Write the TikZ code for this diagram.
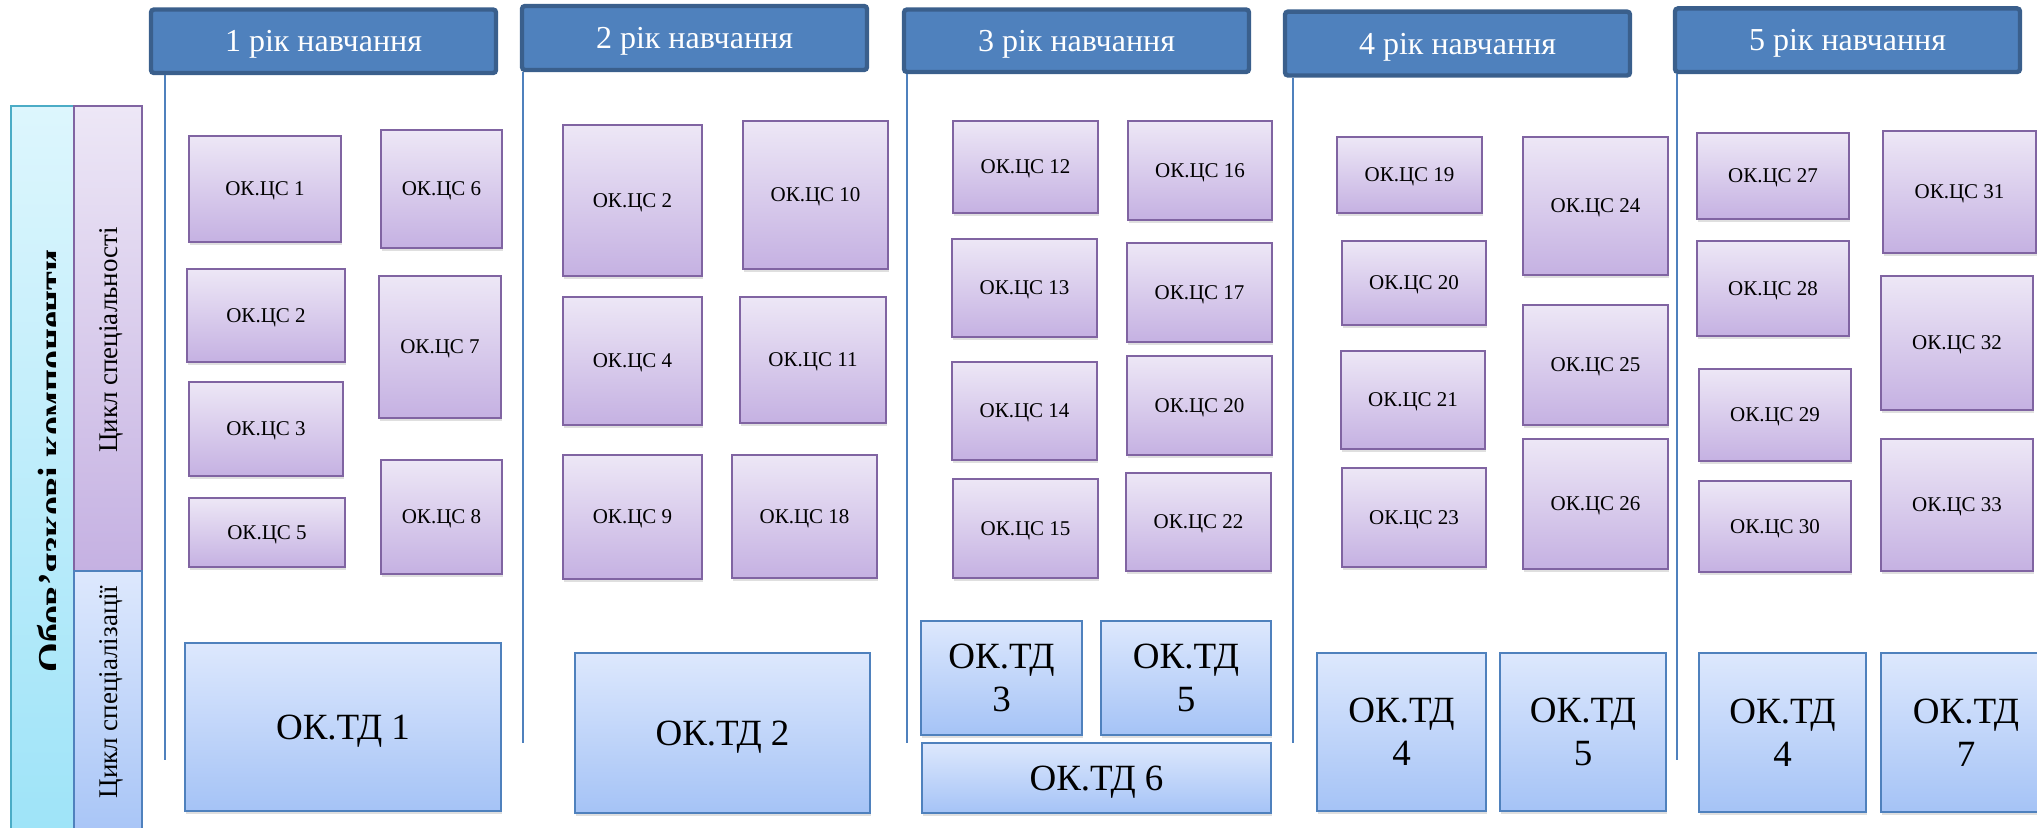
\documentclass[tikz,border=0pt]{standalone}
\usepackage{fontspec}
\setmainfont{Liberation Serif}
\usetikzlibrary{shadows}
\definecolor{hdrfill}{HTML}{4F81BD}
\definecolor{hdrline}{HTML}{3A5F8C}
\definecolor{cstop}{HTML}{EDE7F6}
\definecolor{csbot}{HTML}{C5B1E2}
\definecolor{csline}{HTML}{8064A2}
\definecolor{tdtop}{HTML}{DDE8FD}
\definecolor{tdbot}{HTML}{A5C3F6}
\definecolor{tdline}{HTML}{4F81BD}
\definecolor{cytop}{HTML}{DDF6FD}
\definecolor{cybot}{HTML}{9DE3F8}
\definecolor{cyline}{HTML}{4BACC6}
\newcommand\placebox[7]{%
  \node[#1, minimum width={(#5-#3)*0.5pt}, minimum height={(#6-#4)*0.5pt}] (#2) at ({(#3+#5)/2},{(#4+#6)/2}) {#7};}
\begin{document}
\begin{tikzpicture}[x=0.5pt,y=-0.5pt,
  yearbox/.style={draw=hdrline, fill=hdrfill, line width=2.2pt, rounded corners=1.5pt, inner sep=0pt,
    text=white, text depth=0pt, font=\fontsize{16}{19}\selectfont},
  csbox/.style={draw=csline, line width=1pt, top color=cstop, bottom color=csbot, inner sep=0pt,
    text depth=0pt, font=\fontsize{10.5}{12}\selectfont,
    drop shadow={opacity=0.25, shadow xshift=0.6pt, shadow yshift=-1.4pt}},
  tdbox/.style={draw=tdline, line width=1pt, top color=tdtop, bottom color=tdbot, inner sep=0pt,
    align=center, font=\fontsize{18.5}{21.5}\selectfont,
    drop shadow={opacity=0.25, shadow xshift=0.6pt, shadow yshift=-1.4pt}},
  tdone/.style={tdbox, text depth=0pt},
  yearline/.style={draw=hdrfill, line width=1.2pt},
  sidebox/.style={line width=1pt, inner sep=0pt}
]
\useasboundingbox (0,0) rectangle (2037,828);
\clip (0,0) rectangle (2037,828);

% left panel
\placebox{sidebox, draw=cyline, top color=cytop, bottom color=cybot}{oblig}{11}{106}{75}{850}{}
\placebox{sidebox, draw=csline, top color=cstop, bottom color=csbot}{cycsp}{74}{106}{142}{571}{}
\placebox{sidebox, draw=tdline, top color=tdtop, bottom color=tdbot}{cycsz}{74}{571}{142}{850}{}
\node[rotate=90, font=\fontsize{13.5}{16}\selectfont] (lblsp) at (111,340) {Цикл спеціальності};
\node[rotate=90, font=\fontsize{13.5}{16}\selectfont] (lblsz) at (111,692) {Цикл спеціалізації};
\begin{scope}
  \clip (12,100) rectangle (55,840);
  \node[rotate=90, anchor=north, inner sep=0pt, font=\bfseries\fontsize{19}{22}\selectfont] (lblob) at (37,461) {Обов’язкові компоненти};
\end{scope}

% year headers
\placebox{yearbox}{h1}{151}{9.5}{496}{73}{1 рік навчання}
\placebox{yearbox}{h2}{522}{6}{867}{70}{2 рік навчання}
\placebox{yearbox}{h3}{904}{9.5}{1249}{72}{3 рік навчання}
\placebox{yearbox}{h4}{1285}{11.6}{1630}{75.5}{4 рік навчання}
\placebox{yearbox}{h5}{1675}{8.4}{2020}{72}{5 рік навчання}

% year lines
\coordinate (e1) at (165,760);
\coordinate (e2) at (523,743);
\coordinate (e3) at (907,743);
\coordinate (e4) at (1293,743);
\coordinate (e5) at (1677,760);
\draw[yearline] (h1.south -| e1) -- (e1);
\draw[yearline] (h2.south -| e2) -- (e2);
\draw[yearline] (h3.south -| e3) -- (e3);
\draw[yearline] (h4.south -| e4) -- (e4);
\draw[yearline] (h5.south -| e5) -- (e5);

% year 1
\placebox{csbox}{cs1}{189}{136}{341}{242}{ОК.ЦС 1}
\placebox{csbox}{cs6}{381}{130}{502}{248}{ОК.ЦС 6}
\placebox{csbox}{cs2a}{187}{269}{345}{362}{ОК.ЦС 2}
\placebox{csbox}{cs7}{379}{276}{501}{418}{ОК.ЦС 7}
\placebox{csbox}{cs3}{189}{382}{343}{476}{ОК.ЦС 3}
\placebox{csbox}{cs5}{189}{498}{345}{567}{ОК.ЦС 5}
\placebox{csbox}{cs8}{381}{460}{502}{574}{ОК.ЦС 8}
\placebox{tdone}{td1}{185}{643}{501}{811}{ОК.ТД 1}

% year 2
\placebox{csbox}{cs2b}{563}{125}{702}{276}{ОК.ЦС 2}
\placebox{csbox}{cs10}{743}{121}{888}{269}{ОК.ЦС 10}
\placebox{csbox}{cs4}{563}{297}{702}{425}{ОК.ЦС 4}
\placebox{csbox}{cs11}{740}{297}{886}{423}{ОК.ЦС 11}
\placebox{csbox}{cs9}{563}{455}{702}{579}{ОК.ЦС 9}
\placebox{csbox}{cs18}{732}{455}{877}{578}{ОК.ЦС 18}
\placebox{tdone}{td2}{575}{653}{870}{813}{ОК.ТД 2}

% year 3
\placebox{csbox}{cs12}{953}{121}{1098}{213}{ОК.ЦС 12}
\placebox{csbox}{cs16}{1128}{121}{1272}{220}{ОК.ЦС 16}
\placebox{csbox}{cs13}{952}{239}{1097}{337}{ОК.ЦС 13}
\placebox{csbox}{cs17}{1127}{243}{1272}{342}{ОК.ЦС 17}
\placebox{csbox}{cs14}{952}{362}{1097}{460}{ОК.ЦС 14}
\placebox{csbox}{cs20a}{1127}{356}{1272}{455}{ОК.ЦС 20}
\placebox{csbox}{cs15}{953}{479}{1098}{578}{ОК.ЦС 15}
\placebox{csbox}{cs22}{1126}{473}{1271}{571}{ОК.ЦС 22}
\placebox{tdbox}{td3}{921}{621}{1082}{735}{ОК.ТД\\3}
\placebox{tdbox}{td5a}{1101}{621}{1271}{735}{ОК.ТД\\5}
\placebox{tdone}{td6}{922}{743}{1271}{813}{ОК.ТД 6}

% year 4
\placebox{csbox}{cs19}{1337}{137}{1482}{213}{ОК.ЦС 19}
\placebox{csbox}{cs24}{1523}{137}{1668}{275}{ОК.ЦС 24}
\placebox{csbox}{cs20b}{1342}{241}{1486}{325}{ОК.ЦС 20}
\placebox{csbox}{cs25}{1523}{305}{1668}{425}{ОК.ЦС 25}
\placebox{csbox}{cs21}{1341}{351}{1485}{449}{ОК.ЦС 21}
\placebox{csbox}{cs26}{1523}{439}{1668}{569}{ОК.ЦС 26}
\placebox{csbox}{cs23}{1342}{468}{1486}{567}{ОК.ЦС 23}
\placebox{tdbox}{td4a}{1317}{653}{1486}{811}{ОК.ТД\\4}
\placebox{tdbox}{td5b}{1500}{653}{1666}{811}{ОК.ТД\\5}

% year 5
\placebox{csbox}{cs27}{1697}{133}{1849}{219}{ОК.ЦС 27}
\placebox{csbox}{cs31}{1883}{131}{2036}{253}{ОК.ЦС 31}
\placebox{csbox}{cs28}{1697}{241}{1849}{336}{ОК.ЦС 28}
\placebox{csbox}{cs32}{1881}{276}{2033}{410}{ОК.ЦС 32}
\placebox{csbox}{cs29}{1699}{369}{1851}{461}{ОК.ЦС 29}
\placebox{csbox}{cs33}{1881}{439}{2033}{571}{ОК.ЦС 33}
\placebox{csbox}{cs30}{1699}{481}{1851}{572}{ОК.ЦС 30}
\placebox{tdbox}{td4b}{1699}{653}{1866}{812}{ОК.ТД\\4}
\placebox{tdbox}{td7}{1881}{653}{2051}{812}{ОК.ТД\\7}
\end{tikzpicture}
\end{document}
